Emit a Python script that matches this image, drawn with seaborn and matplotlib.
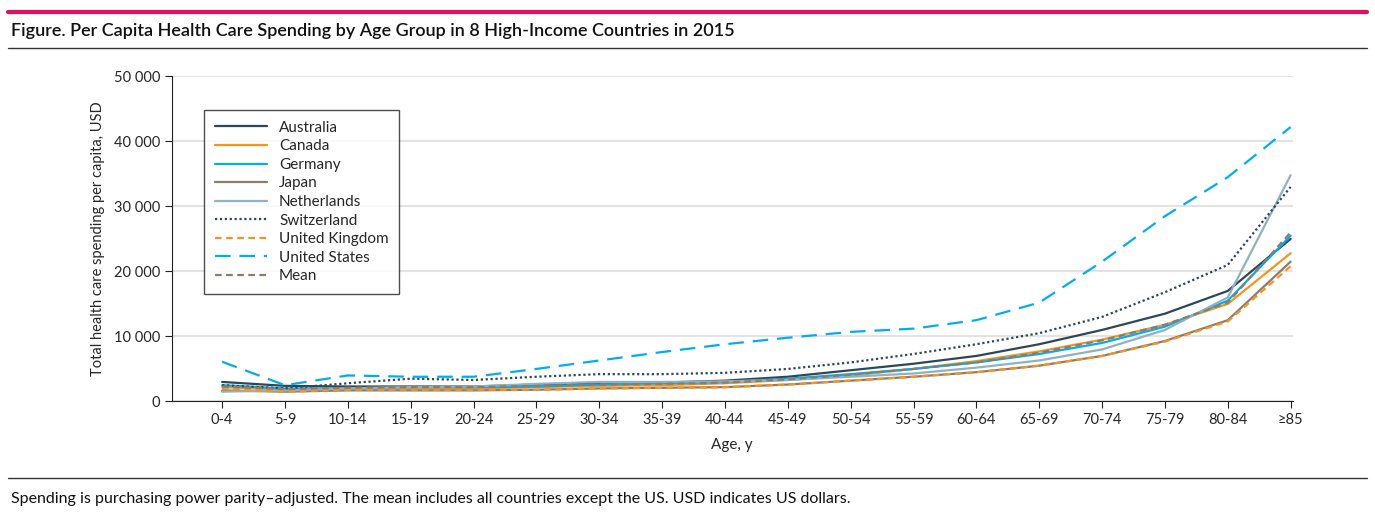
import numpy as np
import pandas as pd
import matplotlib.pyplot as plt
import seaborn as sns
from matplotlib.lines import Line2D

ages = ['0-4', '5-9', '10-14', '15-19', '20-24', '25-29', '30-34', '35-39', '40-44',
        '45-49', '50-54', '55-59', '60-64', '65-69', '70-74', '75-79', '80-84', '≥85']

australia = [3000, 2400, 2300, 2300, 2300, 2600, 2800, 2900, 3200, 3800, 4800, 5800, 7000, 8800, 11000, 13500, 17000, 25000]
canada = [2200, 1800, 2000, 2000, 2000, 2200, 2400, 2500, 2800, 3300, 4000, 5000, 6200, 7700, 9500, 11800, 15000, 22800]
germany = [2500, 2000, 2000, 2200, 2200, 2300, 2600, 2800, 3000, 3500, 4200, 5000, 6000, 7300, 9000, 11500, 15500, 25500]
japan = [1700, 1500, 1700, 1700, 1700, 1800, 2000, 2100, 2200, 2600, 3200, 3800, 4500, 5500, 7000, 9300, 12500, 21500]
netherlands = [1500, 1700, 2000, 2200, 2300, 2700, 3000, 3000, 3100, 3300, 3800, 4300, 5200, 6300, 8000, 11000, 16000, 34800]
switzerland = [2500, 2000, 2800, 3500, 3300, 3800, 4200, 4200, 4400, 5000, 6000, 7300, 8800, 10500, 13000, 16800, 21000, 33000]
united_kingdom = [2000, 1500, 1800, 1800, 1800, 1800, 2000, 2100, 2200, 2600, 3200, 3800, 4500, 5500, 7000, 9200, 12300, 20800]
united_states = [6100, 2500, 4000, 3800, 3800, 5000, 6300, 7600, 8800, 9800, 10700, 11200, 12500, 15200, 21500, 28500, 34500, 42200]
mean = [2300, 1900, 2100, 2200, 2200, 2400, 2600, 2700, 2900, 3400, 4100, 5000, 6000, 7500, 9400, 11800, 15200, 26000]

series = [
    ('Australia', australia, '#2e4756', '-'),
    ('Canada', canada, '#f7941d', '-'),
    ('Germany', germany, '#00aeef', '-'),
    ('Japan', japan, '#8a7d6e', '-'),
    ('Netherlands', netherlands, '#8fb1c2', '-'),
    ('Switzerland', switzerland, '#2e4756', (0, (1, 1.2))),
    ('United Kingdom', united_kingdom, '#f7941d', (0, (3, 2))),
    ('United States', united_states, '#00aeef', (0, (7, 4))),
    ('Mean', mean, '#8a7d6e', (0, (3, 2))),
]

sns.set_style('white')
plt.rcParams['font.family'] = ['Lato', 'DejaVu Sans']

fig = plt.figure(figsize=(13.75, 5.16), dpi=100)
ax = fig.add_axes([0.125, 0.222, 0.815, 0.63])

x = np.arange(len(ages))
handles = []
for name, vals, color, ls in series:
    sns.lineplot(x=x, y=vals, ax=ax, color=color, linestyle=ls, linewidth=1.6)
    handles.append(Line2D([0], [0], color=color, linestyle=ls, linewidth=1.6, label=name))

ax.set_xlim(-0.8, len(ages) - 1 + 0.03)
ax.set_ylim(0, 50000)
ax.set_yticks(range(0, 50001, 10000))
ax.set_yticklabels(['0', '10 000', '20 000', '30 000', '40 000', '50 000'])
ax.set_xticks(x)
ax.set_xticklabels(ages)
ax.yaxis.grid(True, color='#e3e3e3', linewidth=1.5)
ax.set_axisbelow(True)
for s in ['top', 'right']:
    ax.spines[s].set_visible(False)
ax.spines['left'].set_color('#222222')
ax.spines['bottom'].set_color('#222222')
ax.tick_params(axis='both', labelsize=10.5, length=5, color='#222222', direction='out', left=True, bottom=True)
ax.set_xlabel('Age, y', fontsize=11, labelpad=8)
ax.set_ylabel('Total health care spending per capita, USD', fontsize=10.5, labelpad=6)

leg = ax.legend(handles=handles, loc='upper left', bbox_to_anchor=(0.022, 0.92),
                frameon=True, fancybox=False, fontsize=11, handlelength=3.4,
                labelspacing=0.3, borderpad=0.7)
leg.get_frame().set_edgecolor('#222222')
leg.get_frame().set_linewidth(1.0)

# header / footer rules and text
fig.add_artist(Line2D([0.006, 0.994], [0.977, 0.977], color='#e0105e', linewidth=3))
fig.add_artist(Line2D([0.006, 0.994], [0.907, 0.907], color='#333333', linewidth=1))
fig.add_artist(Line2D([0.006, 0.994], [0.074, 0.074], color='#333333', linewidth=1))
fig.text(0.008, 0.94, 'Figure. Per Capita Health Care Spending by Age Group in 8 High-Income Countries in 2015',
         fontsize=13, fontweight='semibold', va='center', ha='left', color='#111111')
fig.text(0.008, 0.033, 'Spending is purchasing power parity–adjusted. The mean includes all countries except the US. '
         'USD indicates US dollars.', fontsize=11.5, va='center', ha='left', color='#111111')

fig.savefig('out.png', dpi=100)
